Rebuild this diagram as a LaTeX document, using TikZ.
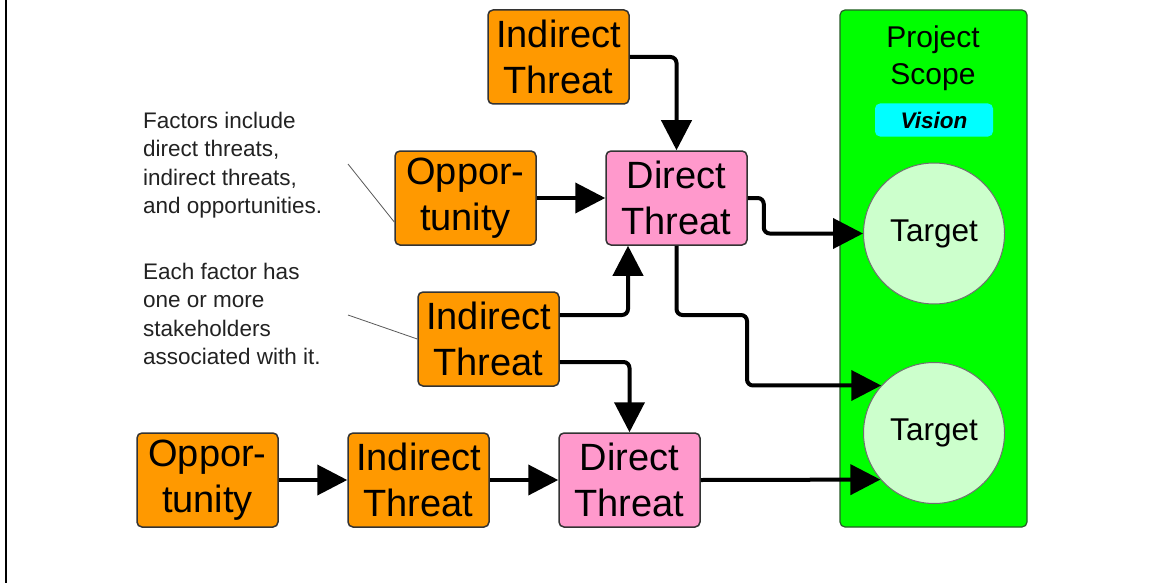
\documentclass[tikz,border=0pt]{standalone}
\usepackage{fontspec}
\setmainfont{Liberation Sans}
\usetikzlibrary{arrows.meta,calc}
\definecolor{orng}{HTML}{FF9900}
\definecolor{pnk}{HTML}{FF99CC}
\definecolor{grn}{HTML}{00FF00}
\definecolor{cyn}{HTML}{00FFFF}
\definecolor{lgrn}{HTML}{CCFFCC}
\definecolor{edgec}{HTML}{333333}
\definecolor{txtc}{HTML}{222222}
\begin{document}
\begin{tikzpicture}[x=1pt,y=-1pt,
  boxbase/.style={draw=edgec,line width=1.5pt,rounded corners=5pt,minimum width=141pt,minimum height=94pt,inner sep=0pt,align=center,font=\fontsize{38}{46}\selectfont},
  obox/.style={boxbase,fill=orng},
  pbox/.style={boxbase,fill=pnk},
  scopebox/.style={draw=edgec!80!grn,line width=1.2pt,fill=grn,rounded corners=5pt,minimum width=187pt,minimum height=517pt,inner sep=0pt},
  visionbox/.style={fill=cyn,rounded corners=5pt,minimum width=118pt,minimum height=33pt,inner sep=0pt,font=\fontsize{22.5}{26}\selectfont\bfseries\itshape},
  target/.style={circle,draw=edgec!70,line width=1pt,fill=lgrn,minimum size=141pt,inner sep=0pt,font=\fontsize{31.5}{36}\selectfont},
  note/.style={align=left,inner sep=0pt,text=txtc,font=\fontsize{22.5}{28.3}\selectfont},
  conn/.style={line width=4pt,rounded corners=6pt,-{Triangle[length=30pt,width=30pt]}},
  leader/.style={line width=0.8pt,draw=black!65}]
\useasboundingbox (0,0) rectangle (1153,583);
\fill[white] (0,0) rectangle (1153,583);
\draw[line width=2.2pt] (6,0) -- (6,583);
% project scope
\node[scopebox] (scope) at (933.5,268.5) {};
\node[align=center,inner sep=0pt,font=\fontsize{30}{37}\selectfont] (ps) at (933,58) {Project\\Scope};
\node[visionbox] (vis) at (934,120) {Vision};
\node[target] (t1) at (934,233.5) {Target};
\node[target] (t2) at (934,433) {Target};
% boxes
\node[obox] (ti) at (558.5,57) {Indirect\\Threat};
\node[obox] (op1) at (465.5,198) {Oppor-\\tunity};
\node[pbox] (dt1) at (676.5,198) {Direct\\Threat};
\node[obox] (mi) at (488.5,339) {Indirect\\Threat};
\node[obox] (op2) at (207.5,480) {Oppor-\\tunity};
\node[obox] (bi) at (418.5,480) {Indirect\\Threat};
\node[pbox] (db) at (629.5,480) {Direct\\Threat};
% notes
\node[note,anchor=north west] (n1) at (143,112) {Factors include\\direct threats,\\indirect threats,\\and opportunities.};
\node[note,anchor=north west] (n2) at (143,263) {Each factor has\\one or more\\stakeholders\\associated with it.};
\coordinate (l1) at (348,164);
\coordinate (l2) at (348,315);
\draw[leader] (l1) -- ([yshift=-24pt]op1.west);
\draw[leader] (l2) -- (mi.west);
% connectors
\draw[conn] (ti.east) -| (dt1.north);
\draw[conn] (op1.east) -- (dt1.west);
\draw[conn] (dt1.east) -- ++(16,0) |- (t1.west);
\draw[conn] ([yshift=24pt]mi.east) -| ([xshift=-48.5pt]dt1.south);
\draw[conn] ([yshift=-23pt]mi.east) -| (db.north);
\coordinate (k6) at (747,315);
\draw[conn] (dt1.south) |- (k6) |- (t2.138.6);
\draw[conn] (op2.east) -- (bi.west);
\draw[conn] (bi.east) -- (db.west);
\draw[conn] (db.east) -- (t2.221.4);
\end{tikzpicture}
\end{document}
